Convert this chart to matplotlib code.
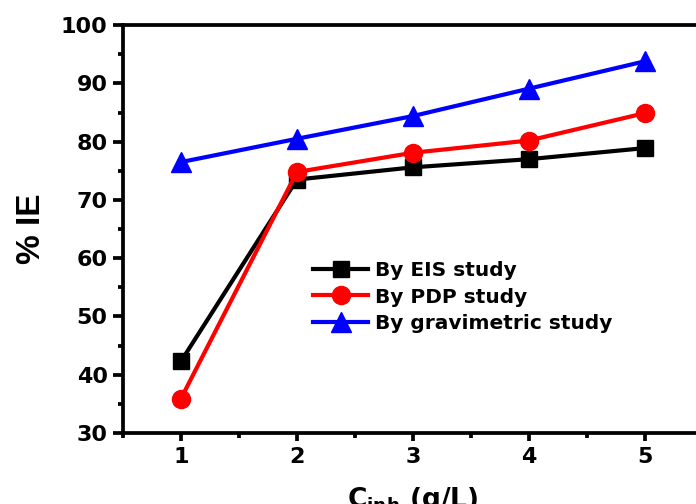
import matplotlib
matplotlib.use("Agg")
import matplotlib.pyplot as plt
from matplotlib.ticker import MultipleLocator

conc = [1, 2, 3, 4, 5]
ie_eis = [42.3, 73.5, 75.6, 77.0, 78.9]
ie_pdp = [35.9, 74.8, 78.1, 80.2, 84.9]
ie_grav = [76.5, 80.5, 84.4, 89.1, 93.8]
labels = ["By EIS study", "By PDP study", "By gravimetric study"]

plt.rcParams["font.family"] = ["DejaVu Sans"]
plt.rcParams["font.weight"] = "bold"
plt.rcParams["mathtext.fontset"] = "dejavusans"

fig = plt.figure(figsize=(6.96, 5.04), dpi=100)
ax = fig.add_axes([0.1767, 0.141, 0.833, 0.809])

ax.plot(conc, ie_eis, color="black", lw=3, marker="s", ms=11, label=labels[0])
ax.plot(conc, ie_pdp, color="red", lw=3, marker="o", ms=13, label=labels[1])
ax.plot(conc, ie_grav, color="blue", lw=3, marker="^", ms=14, label=labels[2])

ax.set_xlim(0.5, 5.5)
ax.set_ylim(30, 100)
ax.xaxis.set_major_locator(MultipleLocator(1))
ax.xaxis.set_minor_locator(MultipleLocator(0.5))
ax.yaxis.set_major_locator(MultipleLocator(10))
ax.yaxis.set_minor_locator(MultipleLocator(5))

for s in ax.spines.values():
    s.set_linewidth(2.7)
ax.tick_params(which="major", direction="out", length=6, width=2.7, labelsize=16, pad=4)
ax.tick_params(axis="y", which="major", length=7)
ax.tick_params(which="minor", direction="out", length=3.5, width=2.7)
for lab in ax.get_xticklabels() + ax.get_yticklabels():
    lab.set_fontweight("bold")

ax.set_ylabel("% IE", fontsize=24, fontweight="bold", labelpad=10,
              family=["Liberation Sans", "DejaVu Sans"])
ax.set_xlabel(r"C$_{\mathbf{inh}}$ (g/L)", fontsize=19, fontweight="bold", labelpad=13)

leg = ax.legend(loc="upper left", bbox_to_anchor=(0.3276, 0.422), frameon=False,
                fontsize=14.5, handlelength=2.75, handletextpad=0.35, labelspacing=0.38,
                borderpad=0, borderaxespad=0)
for t in leg.get_texts():
    t.set_fontweight("bold")

fig.savefig("out.png", dpi=100)
